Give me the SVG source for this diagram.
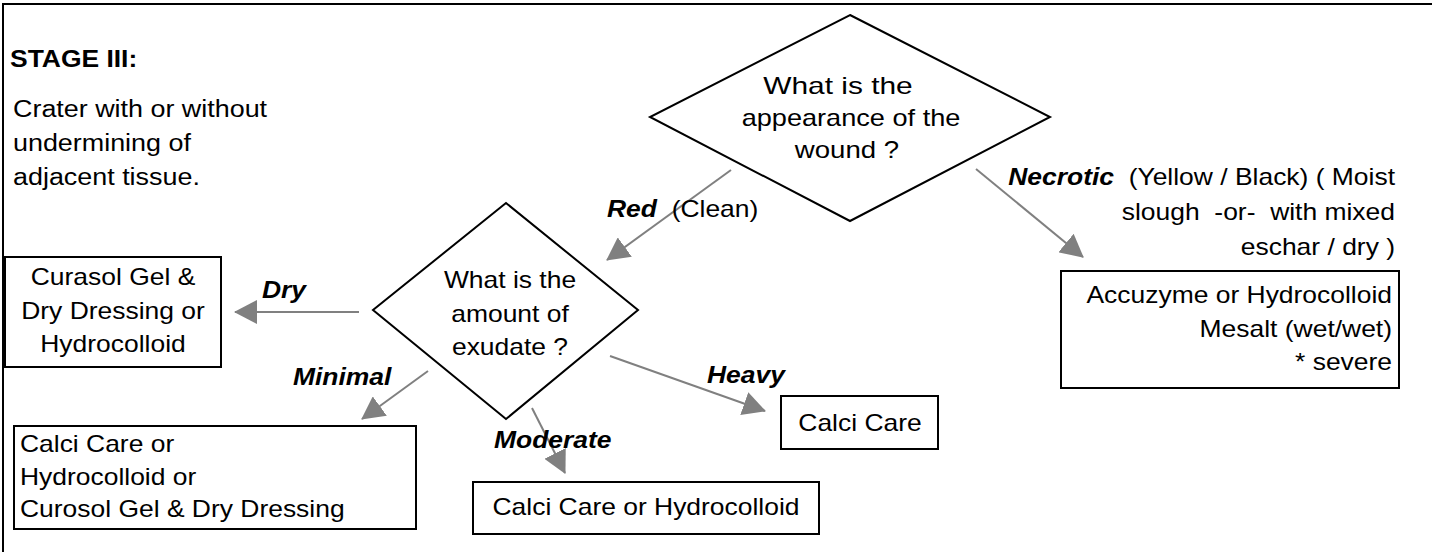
<svg xmlns="http://www.w3.org/2000/svg" width="1432" height="552" viewBox="0 0 1432 552">
<style>
.t{font-family:"Liberation Sans",Arial,sans-serif;font-size:23px;fill:#000}
.b{font-weight:bold}
.bi{font-weight:bold;font-style:italic}
.m{text-anchor:middle}
.e{text-anchor:end}
.shape{fill:#fff;stroke:#000;stroke-width:2}
.frame{fill:none;stroke:#000;stroke-width:2}
.conn{stroke:#808080;stroke-width:2;fill:none}
</style>
<defs>
<marker id="ah" markerUnits="userSpaceOnUse" markerWidth="24" markerHeight="24" refX="22" refY="12" orient="auto">
<path d="M0,0 L23,12 L0,24 Z" fill="#808080"/>
</marker>
</defs>
<rect width="1432" height="552" fill="#fff"/>
<path class="frame" d="M3,552 L3,4 L1432,4"/>

<g id="intro">
<text class="t b" transform="translate(10,67) scale(1.15,1)">STAGE III:</text>
<text class="t" transform="translate(13,117) scale(1.17,1)">Crater with or without</text>
<text class="t" transform="translate(13,151) scale(1.17,1)">undermining of</text>
<text class="t" transform="translate(13,185) scale(1.17,1)">adjacent tissue.</text>
</g>

<g id="connectors">
<line class="conn" x1="731" y1="170" x2="607" y2="260" marker-end="url(#ah)"/>
<line class="conn" x1="976" y1="169" x2="1083" y2="257" marker-end="url(#ah)"/>
<line class="conn" x1="359" y1="312" x2="235" y2="312" marker-end="url(#ah)"/>
<line class="conn" x1="428" y1="371" x2="362" y2="419" marker-end="url(#ah)"/>
<line class="conn" x1="532" y1="408" x2="565" y2="473" marker-end="url(#ah)"/>
<line class="conn" x1="610" y1="356" x2="765" y2="411" marker-end="url(#ah)"/>
</g>

<g id="q-appearance">
<polygon class="shape" points="850,15 1050,117 850,221 650,117"/>
<text class="t m" transform="translate(838,94) scale(1.3,1)">What is the</text>
<text class="t m" transform="translate(851,126) scale(1.18,1)">appearance of the</text>
<text class="t m" transform="translate(847,158) scale(1.2,1)">wound ?</text>
</g>

<g id="q-exudate">
<polygon class="shape" points="506,203 638,310 506,419 373,310"/>
<text class="t m" transform="translate(510,288) scale(1.15,1)">What is the</text>
<text class="t m" transform="translate(510,322) scale(1.15,1)">amount of</text>
<text class="t m" transform="translate(510,355) scale(1.15,1)">exudate ?</text>
</g>

<g id="labels">
<text class="t" transform="translate(607,217) scale(1.15,1)"><tspan class="bi">Red</tspan>&#160; (Clean)</text>
<text class="t e" transform="translate(1395,185) scale(1.15,1)"><tspan class="bi">Necrotic</tspan>&#160; (Yellow / Black) ( Moist</text>
<text class="t e" transform="translate(1395,220) scale(1.15,1)">slough&#160; -or-&#160; with mixed</text>
<text class="t e" transform="translate(1395,255) scale(1.15,1)">eschar / dry )</text>
<text class="t bi" transform="translate(262,298) scale(1.15,1)">Dry</text>
<text class="t bi" transform="translate(293,385) scale(1.15,1)">Minimal</text>
<text class="t bi" transform="translate(494,448) scale(1.15,1)">Moderate</text>
<text class="t bi" transform="translate(707,383) scale(1.15,1)">Heavy</text>
</g>

<g id="box-dry">
<rect class="shape" x="5" y="257" width="216" height="110"/>
<text class="t m" transform="translate(113,285) scale(1.15,1)">Curasol Gel &amp;</text>
<text class="t m" transform="translate(113,319) scale(1.15,1)">Dry Dressing or</text>
<text class="t m" transform="translate(113,352) scale(1.15,1)">Hydrocolloid</text>
</g>

<g id="box-minimal">
<rect class="shape" x="14" y="426" width="402" height="103"/>
<text class="t" transform="translate(20,452) scale(1.15,1)">Calci Care or</text>
<text class="t" transform="translate(20,485) scale(1.15,1)">Hydrocolloid or</text>
<text class="t" transform="translate(20,517) scale(1.15,1)">Curosol Gel &amp; Dry Dressing</text>
</g>

<g id="box-moderate">
<rect class="shape" x="473" y="482" width="346" height="52"/>
<text class="t m" transform="translate(646,515) scale(1.15,1)">Calci Care or Hydrocolloid</text>
</g>

<g id="box-heavy">
<rect class="shape" x="781" y="396" width="157" height="53"/>
<text class="t m" transform="translate(860,431) scale(1.15,1)">Calci Care</text>
</g>

<g id="box-necrotic">
<rect class="shape" x="1061" y="271" width="338" height="117"/>
<text class="t e" transform="translate(1392,303) scale(1.15,1)">Accuzyme or Hydrocolloid</text>
<text class="t e" transform="translate(1392,337) scale(1.15,1)">Mesalt (wet/wet)</text>
<text class="t e" transform="translate(1392,370) scale(1.15,1)">* severe</text>
</g>
</svg>
